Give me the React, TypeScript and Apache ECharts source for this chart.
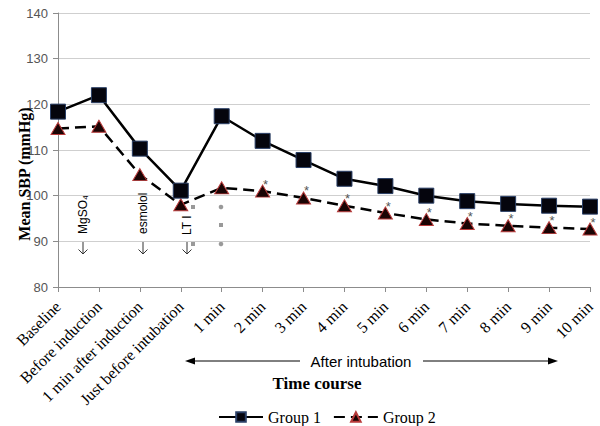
import React, { useEffect, useRef } from "react";
import * as echarts from "echarts";

const categories = [
  "Baseline",
  "Before induction",
  "1 min after induction",
  "Just before intubation",
  "1 min",
  "2 min",
  "3 min",
  "4 min",
  "5 min",
  "6 min",
  "7 min",
  "8 min",
  "9 min",
  "10 min",
];
const group1 = [118.4, 122.0, 110.3, 101.1, 117.4, 112.0, 107.8, 103.7, 102.1, 100.0, 98.8, 98.2, 97.8, 97.6];
const group2 = [114.7, 115.2, 104.6, 98.0, 101.7, 101.0, 99.5, 97.8, 96.2, 94.8, 93.9, 93.4, 93.0, 92.7];
const significant = [false, false, false, false, false, true, true, true, true, true, true, true, true, true];
const yTicks = { min: 80, max: 140, interval: 10 };

const SERIF = "'Liberation Serif', 'Times New Roman', serif";
const SANS = "'Liberation Sans', Arial, sans-serif";

export default function App() {
  const ref = useRef<HTMLDivElement>(null);
  useEffect(() => {
    if (!ref.current) return;
    const chart = echarts.init(ref.current, null, { renderer: "svg" });
    const grey = "#999999";
    const arrowXs = [83, 143, 187];
    chart.setOption({
      animation: false,
      backgroundColor: "#ffffff",
      grid: {
        left: 58,
        right: 10,
        top: 13,
        bottom: 139,
        containLabel: false,
        outerBoundsMode: "none",
      },
      legend: {
        data: ["Group 1", "Group 2"],
        left: 213,
        top: 404,
        itemWidth: 44,
        itemHeight: 12,
        itemGap: 12,
        textStyle: { fontFamily: SERIF, fontSize: 16, color: "#000" },
      },
      xAxis: {
        type: "category",
        data: categories,
        boundaryGap: false,
        axisLine: { show: true, lineStyle: { color: "#8c8c8c", width: 1 } },
        axisTick: { show: true, alignWithLabel: true, length: 5, lineStyle: { color: "#8c8c8c" } },
        axisLabel: {
          interval: 0,
          rotate: 45,
          margin: 17,
          fontFamily: SERIF,
          fontSize: 16,
          color: "#000",
        },
        splitLine: { show: false },
      },
      yAxis: {
        type: "value",
        min: yTicks.min,
        max: yTicks.max,
        interval: yTicks.interval,
        axisLine: { show: true, lineStyle: { color: "#8c8c8c", width: 1 } },
        axisTick: { show: true, length: 5, lineStyle: { color: "#8c8c8c" } },
        axisLabel: { fontFamily: SANS, fontSize: 13, color: "#555", margin: 10 },
        splitLine: { show: true, lineStyle: { color: "#cfcfcf", width: 1.2 } },
      },
      series: [
        {
          name: "Group 1",
          type: "line",
          data: group1,
          symbol: "rect",
          symbolSize: 15,
          z: 3,
          lineStyle: { color: "#000", width: 2.5, type: "solid" },
          itemStyle: { color: "#05050d", borderColor: "#2a3f66", borderWidth: 1 },
        },
        {
          name: "Group 2",
          type: "line",
          data: group2.map((v, i) => ({
            value: v,
            label: significant[i]
              ? {
                  show: true,
                  formatter: "*",
                  position: "top",
                  distance: 0,
                  offset: [3, 6],
                  fontFamily: SANS,
                  fontSize: 13,
                  color: "#555",
                }
              : { show: false },
          })),
          symbol: "triangle",
          symbolSize: [14, 12],
          z: 2,
          lineStyle: { color: "#000", width: 2.5, type: [11, 6] },
          itemStyle: { color: "#1a0404", borderColor: "#b83a3a", borderWidth: 1 },
        },
      ],
      graphic: [
        {
          type: "text",
          x: 24,
          y: 174,
          rotation: Math.PI / 2,
          style: {
            text: "Mean SBP (mmHg)",
            fontFamily: SERIF,
            fontWeight: "bold",
            fontSize: 16,
            fill: "#000",
            align: "center",
            verticalAlign: "middle",
          },
          z: 10,
        },
        {
          type: "text",
          x: 83,
          y: 234,
          rotation: Math.PI / 2,
          style: { text: "MgSO₄", fontFamily: SANS, fontSize: 12, fill: "#000", align: "left", verticalAlign: "middle" },
        },
        {
          type: "text",
          x: 143,
          y: 234,
          rotation: Math.PI / 2,
          style: { text: "esmolol", fontFamily: SANS, fontSize: 12, fill: "#000", align: "left", verticalAlign: "middle" },
        },
        {
          type: "text",
          x: 187,
          y: 235,
          rotation: Math.PI / 2,
          style: { text: "LT I", fontFamily: SANS, fontSize: 12, fill: "#000", align: "left", verticalAlign: "middle" },
        },
        ...arrowXs.map((x) => ({
          type: "line",
          shape: { x1: x, y1: 242, x2: x, y2: 254 },
          style: { stroke: "#333", lineWidth: 1 },
        })),
        ...arrowXs.map((x) => ({
          type: "polyline",
          shape: { points: [[x - 4.5, 249.5], [x, 254], [x + 4.5, 249.5]] },
          style: { stroke: "#333", lineWidth: 1, fill: null },
        })),
        { type: "rect", shape: { x: 191, y: 205, width: 4, height: 4 }, style: { fill: grey } },
        { type: "rect", shape: { x: 191, y: 242, width: 4, height: 4 }, style: { fill: grey } },
        { type: "circle", shape: { cx: 221, cy: 207, r: 2.3 }, style: { fill: grey } },
        { type: "rect", shape: { x: 219, y: 223, width: 4, height: 4 }, style: { fill: grey } },
        { type: "circle", shape: { cx: 221, cy: 244, r: 2.3 }, style: { fill: grey } },
        {
          type: "line",
          shape: { x1: 190, y1: 361, x2: 300, y2: 361 },
          style: { stroke: "#000", lineWidth: 1 },
        },
        {
          type: "polygon",
          shape: { points: [[185, 361], [195, 357.5], [195, 364.5]] },
          style: { fill: "#000" },
        },
        {
          type: "line",
          shape: { x1: 423, y1: 361, x2: 553, y2: 361 },
          style: { stroke: "#000", lineWidth: 1 },
        },
        {
          type: "polygon",
          shape: { points: [[558, 361], [548, 357.5], [548, 364.5]] },
          style: { fill: "#000" },
        },
        {
          type: "text",
          x: 361,
          y: 361,
          style: {
            text: "After intubation",
            fontFamily: SANS,
            fontSize: 15,
            fill: "#000",
            align: "center",
            verticalAlign: "middle",
          },
        },
        {
          type: "text",
          x: 317,
          y: 383,
          style: {
            text: "Time course",
            fontFamily: SERIF,
            fontWeight: "bold",
            fontSize: 17,
            fill: "#000",
            align: "center",
            verticalAlign: "middle",
          },
        },
      ],
    });
    return () => chart.dispose();
  }, []);
  return (
    <div
      ref={ref}
      style={{ position: "fixed", left: 0, top: 0, width: 600, height: 426, background: "#fff" }}
    />
  );
}
